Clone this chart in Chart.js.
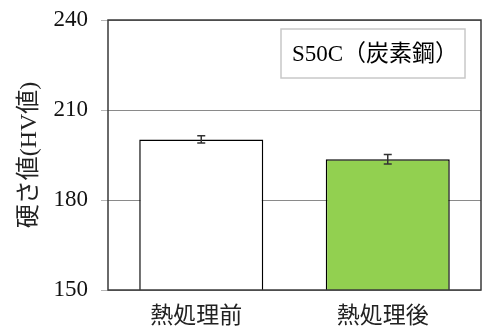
<!DOCTYPE html>
<html>
<head>
<meta charset="utf-8">
<script src="https://cdn.jsdelivr.net/npm/chart.js@4.4.1/dist/chart.umd.min.js"></script>
<style>
  html, body { margin: 0; padding: 0; background: #fff; }
  #wrap { width: 483px; height: 327px; }
</style>
</head>
<body>
<div id="wrap"><canvas id="myChart"></canvas></div>
<script>
const categories = ['熱処理前', '熱処理後'];
const hardness = [200.2, 193.6];
const hardnessErr = [1.2, 1.6];
const barColors = ['#ffffff', '#92d050'];
const yTicks = [150, 180, 210, 240];
const boxLabel = 'S50C（炭素鋼）';

// error bars drawn from the y scale
const errorBars = {
  id: 'errorBars',
  afterDatasetsDraw(chart) {
    const ctx = chart.ctx;
    const y = chart.scales.y;
    const meta = chart.getDatasetMeta(0);
    ctx.save();
    ctx.strokeStyle = '#333';
    ctx.lineWidth = 1.5;
    meta.data.forEach((bar, i) => {
      const top = y.getPixelForValue(hardness[i] + hardnessErr[i]);
      const bot = y.getPixelForValue(hardness[i] - hardnessErr[i]);
      ctx.beginPath();
      ctx.moveTo(bar.x, top);
      ctx.lineTo(bar.x, bot);
      ctx.moveTo(bar.x - 4, top);
      ctx.lineTo(bar.x + 4, top);
      ctx.moveTo(bar.x - 4, bot);
      ctx.lineTo(bar.x + 4, bot);
      ctx.stroke();
    });
    ctx.restore();
  }
};

// frame round the plot area plus the material label box
const frameAndBox = {
  id: 'frameAndBox',
  afterDraw(chart) {
    const ctx = chart.ctx;
    const a = chart.chartArea;
    ctx.save();
    ctx.strokeStyle = '#3a3a3a';
    ctx.lineWidth = 1.5;
    ctx.strokeRect(a.left, a.top, a.right - a.left, a.bottom - a.top);

    const bx = a.left + 173, by = a.top + 9, bw = 184, bh = 49;
    ctx.fillStyle = '#fff';
    ctx.fillRect(bx, by, bw, bh);
    ctx.strokeStyle = '#c8c8c8';
    ctx.lineWidth = 1.5;
    ctx.strokeRect(bx, by, bw, bh);
    ctx.fillStyle = '#000';
    ctx.font = '23px "Liberation Serif", "Noto Sans CJK JP"';
    ctx.textAlign = 'center';
    ctx.textBaseline = 'middle';
    ctx.fillText(boxLabel, bx + bw / 2 + 2, by + bh / 2 + 1);
    ctx.restore();
  }
};

new Chart(document.getElementById('myChart'), {
  type: 'bar',
  data: {
    labels: categories,
    datasets: [{
      data: hardness,
      backgroundColor: barColors,
      borderColor: '#000',
      borderWidth: 1.5,
      borderSkipped: false,
      categoryPercentage: 1,
      barPercentage: 0.665
    }]
  },
  options: {
    responsive: true,
    maintainAspectRatio: false,
    animation: false,
    layout: { padding: { top: 0, right: 2, left: 0, bottom: 0 } },
    plugins: {
      legend: { display: false },
      tooltip: { enabled: false }
    },
    scales: {
      x: {
        grid: { display: false, drawTicks: false },
        border: { display: false },
        ticks: {
          color: '#222',
          padding: 10,
          labelOffset: -5,
          font: { family: '"Noto Sans CJK JP"', size: 23 }
        },
        afterFit(scale) { scale.height = 37; }
      },
      y: {
        min: 150,
        max: 240,
        afterBuildTicks(scale) { scale.ticks = yTicks.map(v => ({ value: v })); },
        grid: { color: '#8a8a8a', tickColor: '#b4b4b4', tickLength: 7, lineWidth: 1 },
        border: { display: false },
        ticks: {
          color: '#111',
          padding: 13,
          font: { family: '"Liberation Serif"', size: 23 }
        },
        title: {
          display: true,
          text: '硬さ値(HV値)',
          color: '#222',
          padding: { top: 15, bottom: 0 },
          font: { family: '"Liberation Serif", "Noto Sans CJK JP"', size: 24 }
        },
        afterFit(scale) {
          scale.width = 108;
          scale.paddingTop = 20;
          scale.paddingBottom = 0;
        }
      }
    }
  },
  plugins: [errorBars, frameAndBox]
});
</script>
</body>
</html>
